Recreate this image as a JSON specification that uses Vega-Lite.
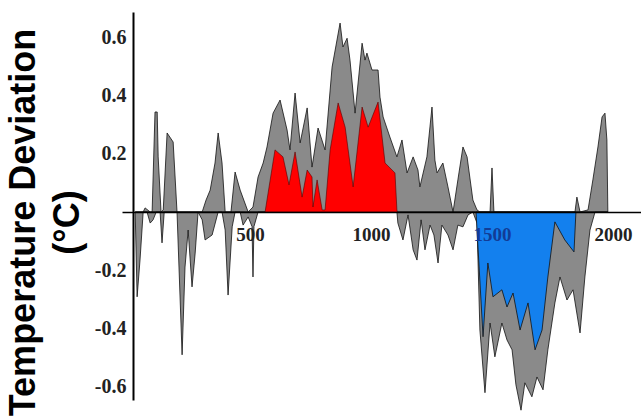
{
  "$schema": "https://vega.github.io/schema/vega-lite/v6.json",
  "width": 508,
  "height": 388,
  "autosize": {"type": "none"},
  "padding": {"left": 133, "top": 12, "right": 0, "bottom": 19},
  "background": "white",
  "config": {"view": {"stroke": null}},
  "datasets": {
    "up": [
      {"yr":25,"v":0},{"yr":33,"v":0},{"yr":58,"v":0},{"yr":66,"v":0.014},{"yr":87,"v":0},{"yr":95,"v":0},{"yr":107,"v":0.343},{"yr":116,"v":0.343},{"yr":120,"v":0.189},{"yr":132,"v":0},{"yr":141,"v":0.007},{"yr":157,"v":0.271},{"yr":182,"v":0.24},{"yr":198,"v":0},{"yr":302,"v":0},{"yr":318,"v":0.041},{"yr":335,"v":0.075},{"yr":355,"v":0.168},{"yr":368,"v":0.271},{"yr":384,"v":0.168},{"yr":397,"v":0},{"yr":421,"v":0},{"yr":438,"v":0.137},{"yr":459,"v":0.075},{"yr":492,"v":0},{"yr":512,"v":0.017},{"yr":533,"v":0.12},{"yr":554,"v":0.168},{"yr":570,"v":0.223},{"yr":595,"v":0.339},{"yr":624,"v":0.384},{"yr":653,"v":0.281},{"yr":665,"v":0.213},{"yr":686,"v":0.408},{"yr":707,"v":0.237},{"yr":736,"v":0.357},{"yr":756,"v":0.154},{"yr":781,"v":0.288},{"yr":810,"v":0.213},{"yr":839,"v":0.497},{"yr":872,"v":0.648},{"yr":884,"v":0.566},{"yr":901,"v":0.596},{"yr":913,"v":0.521},{"yr":934,"v":0.339},{"yr":963,"v":0.579},{"yr":975,"v":0.521},{"yr":983,"v":0.545},{"yr":1004,"v":0.487},{"yr":1029,"v":0.487},{"yr":1037,"v":0.394},{"yr":1050,"v":0.326},{"yr":1078,"v":0.257},{"yr":1107,"v":0.189},{"yr":1128,"v":0.247},{"yr":1149,"v":0.134},{"yr":1174,"v":0.189},{"yr":1194,"v":0.144},{"yr":1202,"v":0.086},{"yr":1231,"v":0.189},{"yr":1252,"v":0.36},{"yr":1264,"v":0.178},{"yr":1273,"v":0.134},{"yr":1297,"v":0.168},{"yr":1318,"v":0.086},{"yr":1339,"v":0},{"yr":1359,"v":0.11},{"yr":1380,"v":0.223},{"yr":1397,"v":0.189},{"yr":1421,"v":0.041},{"yr":1438,"v":0.007},{"yr":1450,"v":0},{"yr":1492,"v":0},{"yr":1500,"v":0.151},{"yr":1508,"v":0},{"yr":1843,"v":0},{"yr":1851,"v":0.051},{"yr":1864,"v":0},{"yr":1897,"v":0.007},{"yr":1917,"v":0.11},{"yr":1938,"v":0.223},{"yr":1955,"v":0.326},{"yr":1967,"v":0.339},{"yr":1975,"v":0.247},{"yr":1979,"v":0}
    ],
    "down": [
      {"yr":25,"v":0},{"yr":33,"v":-0.291},{"yr":45,"v":-0.165},{"yr":58,"v":0},{"yr":74,"v":0},{"yr":87,"v":-0.038},{"yr":99,"v":-0.027},{"yr":112,"v":0},{"yr":128,"v":0},{"yr":136,"v":-0.106},{"yr":145,"v":0},{"yr":198,"v":0},{"yr":219,"v":-0.49},{"yr":231,"v":-0.189},{"yr":244,"v":-0.062},{"yr":260,"v":-0.257},{"yr":273,"v":-0.141},{"yr":285,"v":0},{"yr":302,"v":-0.027},{"yr":314,"v":-0.096},{"yr":343,"v":-0.079},{"yr":368,"v":0},{"yr":384,"v":0},{"yr":397,"v":-0.062},{"yr":409,"v":-0.285},{"yr":426,"v":-0.051},{"yr":438,"v":0},{"yr":459,"v":0},{"yr":471,"v":-0.045},{"yr":492,"v":-0.017},{"yr":508,"v":-0.05},{"yr":512,"v":-0.223},{"yr":516,"v":-0.05},{"yr":533,"v":0},{"yr":1107,"v":0},{"yr":1111,"v":-0.038},{"yr":1132,"v":-0.096},{"yr":1153,"v":-0.01},{"yr":1174,"v":-0.13},{"yr":1190,"v":-0.165},{"yr":1207,"v":-0.027},{"yr":1223,"v":-0.13},{"yr":1244,"v":-0.045},{"yr":1260,"v":-0.079},{"yr":1277,"v":-0.175},{"yr":1293,"v":-0.045},{"yr":1318,"v":-0.079},{"yr":1339,"v":-0.13},{"yr":1359,"v":-0.045},{"yr":1380,"v":-0.051},{"yr":1401,"v":-0.01},{"yr":1421,"v":0},{"yr":1438,"v":-0.038},{"yr":1450,"v":-0.405},{"yr":1471,"v":-0.62},{"yr":1492,"v":-0.381},{"yr":1512,"v":-0.497},{"yr":1541,"v":-0.381},{"yr":1562,"v":-0.439},{"yr":1583,"v":-0.473},{"yr":1599,"v":-0.593},{"yr":1620,"v":-0.68},{"yr":1636,"v":-0.586},{"yr":1665,"v":-0.634},{"yr":1686,"v":-0.566},{"yr":1711,"v":-0.61},{"yr":1731,"v":-0.473},{"yr":1760,"v":-0.312},{"yr":1781,"v":-0.223},{"yr":1810,"v":-0.302},{"yr":1835,"v":-0.267},{"yr":1864,"v":-0.415},{"yr":1884,"v":-0.223},{"yr":1905,"v":-0.062},{"yr":1926,"v":0},{"yr":1979,"v":0}
    ],
    "warm": [
      {"yr":562,"v":0},{"yr":603,"v":0.213},{"yr":636,"v":0.189},{"yr":661,"v":0.093},{"yr":686,"v":0.206},{"yr":715,"v":0.051},{"yr":736,"v":0.144},{"yr":756,"v":0.12},{"yr":760,"v":0.017},{"yr":777,"v":0.11},{"yr":798,"v":0.007},{"yr":810,"v":0.007},{"yr":831,"v":0.213},{"yr":864,"v":0.374},{"yr":893,"v":0.291},{"yr":926,"v":0.086},{"yr":963,"v":0.36},{"yr":988,"v":0.291},{"yr":1029,"v":0.377},{"yr":1058,"v":0.168},{"yr":1099,"v":0.134},{"yr":1107,"v":0.007},{"yr":1109,"v":0}
    ],
    "cold": [
      {"yr":1434,"v":0},{"yr":1463,"v":-0.428},{"yr":1483,"v":-0.175},{"yr":1504,"v":-0.291},{"yr":1541,"v":-0.267},{"yr":1562,"v":-0.326},{"yr":1587,"v":-0.278},{"yr":1616,"v":-0.405},{"yr":1649,"v":-0.312},{"yr":1678,"v":-0.473},{"yr":1707,"v":-0.405},{"yr":1731,"v":-0.223},{"yr":1760,"v":-0.034},{"yr":1801,"v":-0.096},{"yr":1839,"v":-0.137},{"yr":1847,"v":0}
    ]
  },
  "encoding": {
    "x": {"field": "yr", "type": "quantitative",
      "scale": {"domain": [16, 2116], "nice": false, "zero": false},
      "axis": {"orient": "bottom", "offset": -188, "values": [500, 1000, 1500, 2000], "format": "d", "ticks": false, "grid": false, "title": null,
        "domainColor": "#000", "domainWidth": 1.5, "zindex": 1,
        "labelFont": "Liberation Serif", "labelFontSize": 19, "labelFontWeight": "bold",
        "labelColor": {"condition": {"test": "datum.value === 1500", "value": "#123c96"}, "value": "#222"},
        "labelPadding": 13}},
    "y": {"field": "v", "type": "quantitative",
      "scale": {"domain": [-0.645, 0.686], "nice": false, "zero": false},
      "axis": {"values": [-0.6, -0.4, -0.2, 0, 0.2, 0.4, 0.6], "grid": false,
        "labelExpr": "datum.value === 0 ? '' : replace(format(datum.value, '.1f'), '\u2212', '-')",
        "domainColor": "#000", "domainWidth": 2, "zindex": 1,
        "ticks": true, "tickSize": 11, "tickWidth": 1.5,
        "tickColor": {"condition": {"test": "datum.value === 0", "value": "#000"}, "value": "transparent"},
        "labelFont": "Liberation Serif", "labelFontSize": 20, "labelFontWeight": "bold", "labelColor": "#222",
        "labelPadding": -4,
        "title": ["Temperature Deviation", "(°C)"],
        "titleFont": "Liberation Sans", "titleFontSize": 36, "titleFontWeight": "bold", "titleColor": "#000",
        "titleBaseline": "alphabetic", "titleLineHeight": 44, "titleX": -99, "titleY": 210, "titleAlign": "center", "titleAngle": 270}}
  },
  "layer": [
    {"data": {"name": "up"}, "mark": {"type": "area", "fill": "#8a8a8a", "stroke": "#111", "strokeWidth": 0.8}, "encoding": {"y2": {"datum": 0}}},
    {"data": {"name": "down"}, "mark": {"type": "area", "fill": "#8a8a8a", "stroke": "#111", "strokeWidth": 0.8}, "encoding": {"y2": {"datum": 0}}},
    {"data": {"name": "warm"}, "mark": {"type": "area", "fill": "#ff0000", "stroke": "#550000", "strokeWidth": 0.6}, "encoding": {"y2": {"datum": 0}}},
    {"data": {"name": "cold"}, "mark": {"type": "area", "fill": "#1380ee", "stroke": "#111", "strokeWidth": 0.8}, "encoding": {"y2": {"datum": 0}}}
  ]
}
